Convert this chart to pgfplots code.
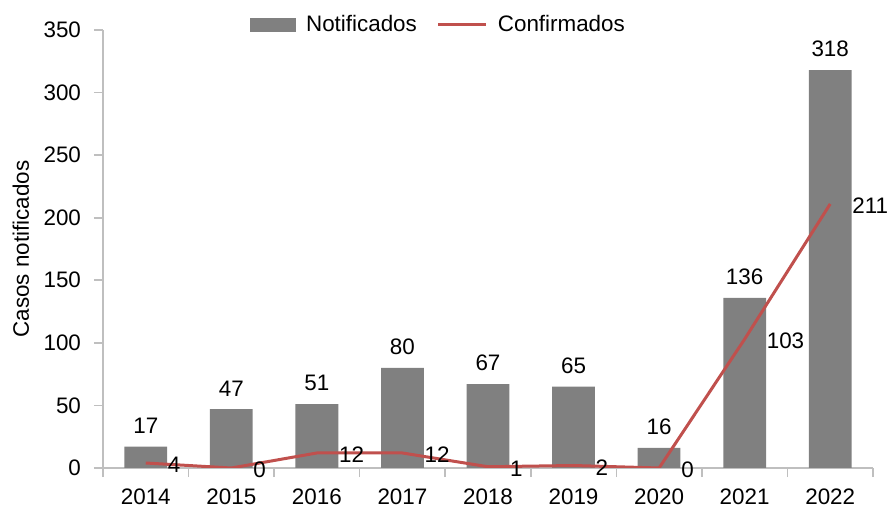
\documentclass[border=0pt]{standalone}
\usepackage{fontspec}
\setmainfont{Liberation Sans}
\usepackage{pgfplots}
\pgfplotsset{compat=1.18}
\definecolor{bargray}{HTML}{808080}
\definecolor{linered}{HTML}{C0504D}
\definecolor{axgray}{HTML}{BFBFBF}
\begin{document}
\begin{tikzpicture}
\useasboundingbox (-51.5pt,-25pt) rectangle (392pt,234pt);
\begin{axis}[
    scale only axis,
    width=385pt, height=219pt,
    font=\fontsize{11.2}{13}\selectfont,
    /pgf/number format/assume math mode=true,
    xmin=-0.5, xmax=8.5,
    ymin=0, ymax=350,
    axis x line=bottom, axis y line=left,
    axis line style={draw=axgray, line width=0.8pt, -},
    xtick={0,...,8},
    xticklabels={2014,2015,2016,2017,2018,2019,2020,2021,2022},
    minor xtick={-0.5,0.5,...,8.5},
    x tick style={draw=none},
    minor x tick style={draw=axgray, line width=0.8pt},
    minor tick length=4.5pt,
    ytick={0,50,...,350},
    y tick style={draw=axgray, line width=0.8pt},
    major tick length=4.5pt,
    tick align=outside,
    xticklabel style={yshift=-2.5pt},
    yticklabel style={xshift=-3pt},
    ylabel={Casos notificados},
    ylabel style={at={(axis description cs:-0.1065,0.5)}, anchor=center},
    legend style={draw=none, fill=none, at={(0.437,1.012)}, anchor=center,
        legend columns=2, column sep=0pt,
        /tikz/every odd column/.append style={column sep=3pt},
        /tikz/every even column/.append style={column sep=8pt},
        font=\fontsize{11.2}{13}\selectfont},
]
\addplot[ybar, bar width=0.5, fill=bargray, draw=none,
    nodes near coords,
    every node near coord/.append style={black, yshift=3pt},
    legend image code/.code={\fill[bargray] (0pt,-3.5pt) rectangle (23pt,3.5pt);}]
    coordinates {(0,17) (1,47) (2,51) (3,80) (4,67) (5,65) (6,16) (7,136) (8,318)};
\addlegendentry{Notificados}
\addplot[linered, line width=1.5pt, mark=none,
    nodes near coords,
    every node near coord/.append style={black, anchor=west, xshift=7pt, yshift=-1pt},
    legend image code/.code={\draw[linered, line width=1.5pt] (0pt,0pt) -- (24pt,0pt);}]
    coordinates {(0,4) (1,0) (2,12) (3,12) (4,1) (5,2) (6,0) (7,103) (8,211)};
\addlegendentry{Confirmados}
\end{axis}
\end{tikzpicture}
\end{document}
